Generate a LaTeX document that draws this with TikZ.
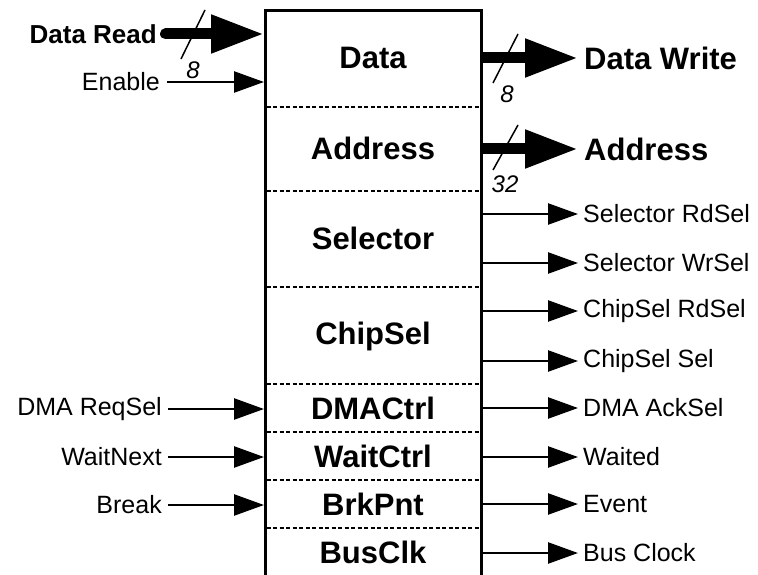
\documentclass[tikz,border=0pt]{standalone}
\usepackage{fontspec}
\setmainfont{Liberation Sans}
\usetikzlibrary{arrows.meta}
\begin{document}
\begin{tikzpicture}[x=1pt,y=-1pt,
  big/.style={font=\fontsize{31}{36}\selectfont\bfseries, inner sep=0pt},
  mid/.style={font=\fontsize{26}{30}\selectfont\bfseries, inner sep=0pt},
  lbl/.style={font=\fontsize{25}{29}\selectfont, inner sep=0pt},
  num/.style={font=\fontsize{24}{28}\selectfont\itshape, inner sep=0pt},
  sig/.style={line width=2.5pt, -{Triangle[length=30pt,width=21pt]}},
  bus/.style={line width=11pt, -{Triangle[length=53pt,width=36pt]}},
  sep/.style={line width=1.3pt, dash pattern=on 4pt off 2.5pt},
  slash/.style={line width=1.5pt}]
\useasboundingbox (0,0) rectangle (758,575);
\clip (0,0) rectangle (758,575);
% box
\draw[line width=3pt] (265,590) -- (265,10.5) -- (481,10.5) -- (481,590);
\foreach \yy in {107,191,287,384,432,480,528}
  \draw[sep] (266.5,\yy) -- (479.5,\yy);
% section labels
\node[big] (sData) at (373,58) {Data};
\node[big] (sAddr) at (373,148) {Address};
\node[big] (sSel) at (373,238) {Selector};
\node[big] (sChip) at (373,336) {ChipSel};
\node[big] (sDMA) at (373,408) {DMACtrl};
\node[big] (sWait) at (373,456) {WaitCtrl};
\node[big] (sBrk) at (373,504) {BrkPnt};
\node[big] (sBus) at (373,552) {BusClk};
% box edge coordinates
\coordinate (inDR) at (264,34);
\coordinate (inEn) at (264,82);
\coordinate (inDMA) at (264,409);
\coordinate (inWait) at (264,457);
\coordinate (inBrk) at (264,505);
\coordinate (oDW) at (482,58);
\coordinate (oAd) at (482,149);
\coordinate (o1) at (482,214);
\coordinate (o2) at (482,263);
\coordinate (o3) at (482,311);
\coordinate (o4) at (482,361);
\coordinate (o5) at (482,408);
\coordinate (o6) at (482,457);
\coordinate (o7) at (482,504);
\coordinate (o8) at (482,553);
% left labels
\node[mid, anchor=east] (lDR) at (157,34) {Data Read};
\node[lbl, anchor=east] (lEn) at (160,82) {Enable};
\node[lbl, anchor=east] (lDMA) at (162,409) {DMA ReqSel};
\node[lbl, anchor=east] (lWait) at (162,457) {WaitNext};
\node[lbl, anchor=east] (lBrk) at (162,505) {Break};
% right labels
\node[big, anchor=west] (rDW) at (584,58) {Data Write};
\node[big, anchor=west] (rAd) at (584,149) {Address};
\node[lbl, anchor=west] (r1) at (583,214) {Selector RdSel};
\node[lbl, anchor=west] (r2) at (583,263) {Selector WrSel};
\node[lbl, anchor=west] (r3) at (583,311) {ChipSel RdSel};
\node[lbl, anchor=west] (r4) at (583,361) {ChipSel Sel};
\node[lbl, anchor=west] (r5) at (583,408) {DMA AckSel};
\node[lbl, anchor=west] (r6) at (583,457) {Waited};
\node[lbl, anchor=west] (r7) at (583,504) {Event};
\node[lbl, anchor=west] (r8) at (583,553) {Bus Clock};
% inputs
\draw[bus, line cap=round] ([xshift=8.5pt]lDR.east) -- (inDR);
\draw[sig] ([xshift=7pt]lEn.east) -- (inEn);
\draw[sig] ([xshift=6pt]lDMA.east) -- (inDMA);
\draw[sig] ([xshift=6pt]lWait.east) -- (inWait);
\draw[sig] ([xshift=6pt]lBrk.east) -- (inBrk);
% outputs
\draw[bus] (oDW) -- ([xshift=-6pt]rDW.west);
\draw[bus] (oAd) -- ([xshift=-6pt]rAd.west);
\foreach \i in {1,...,8}
  \draw[sig] (o\i) -- ([xshift=-5pt]r\i.west);
% bus width slashes
\coordinate (s1a) at (181,59); \coordinate (s1b) at (205,10);
\draw[slash] (s1a) -- (s1b);
\node[num] (n1) at (193,70) {8};
\coordinate (s2a) at (493,83); \coordinate (s2b) at (518,34);
\draw[slash] (s2a) -- (s2b);
\node[num] (n2) at (507,94) {8};
\coordinate (s3a) at (493,170); \coordinate (s3b) at (518,125);
\draw[slash] (s3a) -- (s3b);
\node[num] (n3) at (505,184) {32};
\end{tikzpicture}
\end{document}
